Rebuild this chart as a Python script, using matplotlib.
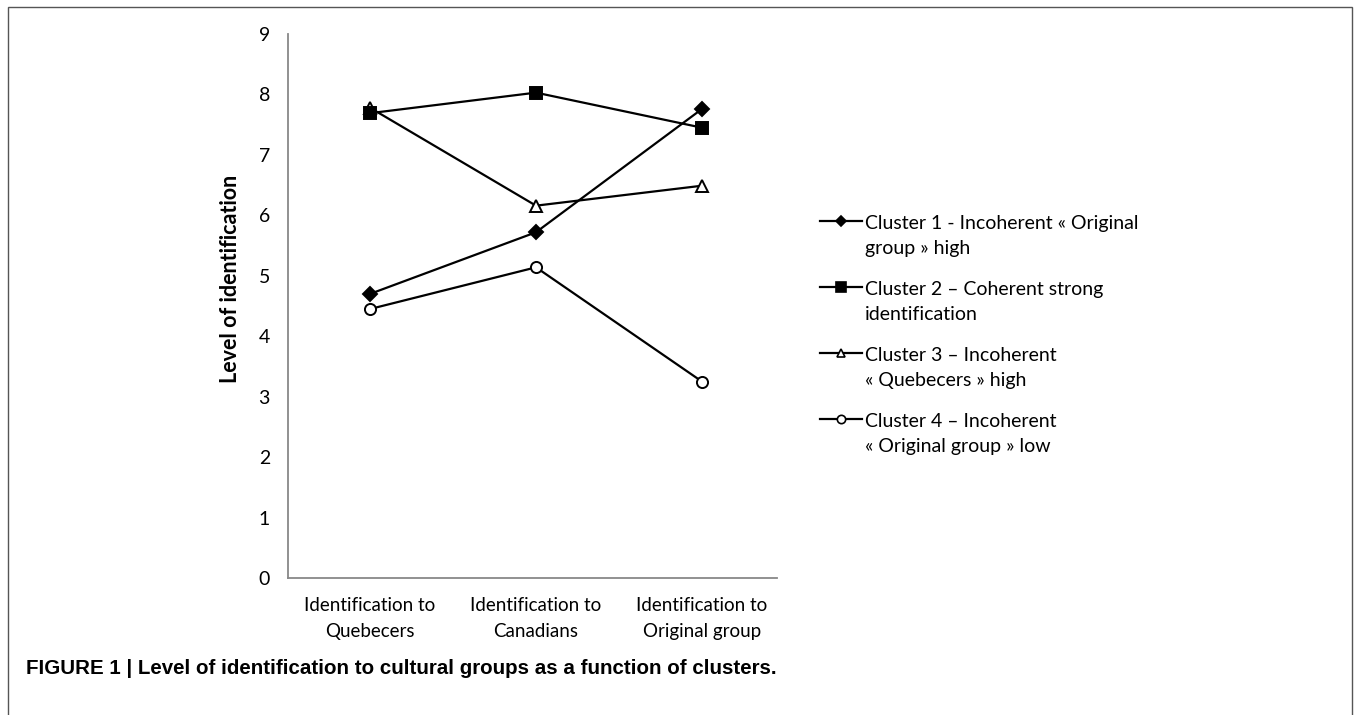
import matplotlib.pyplot as plt
from matplotlib.lines import Line2D
from matplotlib.patches import Rectangle

plt.rcParams['font.family'] = ['Lato', 'DejaVu Sans']

categories = ['Identification to\nQuebecers', 'Identification to\nCanadians',
              'Identification to\nOriginal group']
cluster1 = [4.70, 5.72, 7.76]
cluster2 = [7.69, 8.03, 7.45]
cluster3 = [7.78, 6.16, 6.49]
cluster4 = [4.45, 5.14, 3.25]
labels = ['Cluster 1 - Incoherent « Original\ngroup » high',
          'Cluster 2 – Coherent strong\nidentification',
          'Cluster 3 – Incoherent\n« Quebecers » high',
          'Cluster 4 – Incoherent\n« Original group » low']
caption = 'FIGURE 1 | Level of identification to cultural groups as a function of clusters.'

W, H = 1354, 715
fig = plt.figure(figsize=(W / 100, H / 100), dpi=100)

# outer frame of the figure panel
fig.add_artist(Rectangle((8 / W, -0.02), (1352 - 8) / W, 1.02 - 7.5 / H,
                         transform=fig.transFigure, fill=False,
                         edgecolor='#555555', lw=1.0))

ax = fig.add_axes([288 / W, 1 - 578 / H, (777 - 288) / W, (578 - 34) / H])
x = range(len(categories))

styles = [
    dict(marker='D', markersize=7, markerfacecolor='black'),
    dict(marker='s', markersize=9, markerfacecolor='black'),
    dict(marker='^', markersize=8.5, markerfacecolor='white'),
    dict(marker='o', markersize=8, markerfacecolor='white'),
]
series = [cluster1, cluster2, cluster3, cluster4]
zorders = [4, 5, 3, 3]
for vals, st, z in zip(series, styles, zorders):
    ax.plot(x, vals, color='black', lw=1.6, markeredgecolor='black',
            markeredgewidth=1.4, clip_on=False, zorder=z, **st)

ax.set_xlim(-0.494, 2.452)
ax.set_ylim(0, 9)
ax.set_yticks(range(10))
ax.set_xticks(list(x))
ax.set_xticklabels(categories, fontsize=13.5, linespacing=1.58)
ax.tick_params(axis='y', length=0, pad=13, labelsize=14)
ax.tick_params(axis='x', length=0, pad=14)
for s in ['top', 'right']:
    ax.spines[s].set_visible(False)
for s in ['left', 'bottom']:
    ax.spines[s].set_color('#888888')
    ax.spines[s].set_linewidth(1.3)
ax.set_ylabel('Level of identification', fontsize=15.5, fontweight='bold')
ax.yaxis.set_label_coords(-0.096, 0.55)

# legend drawn by hand so the handle sits on the first text line
for i, (lab, st) in enumerate(zip(labels, styles)):
    ypx = 221 + i * 66
    yy = 1 - ypx / H
    fig.add_artist(Line2D([820 / W, 862 / W], [yy, yy],
                          transform=fig.transFigure, color='black', lw=1.6))
    fig.add_artist(Line2D([841 / W], [yy], transform=fig.transFigure,
                          color='black', markeredgecolor='black',
                          markeredgewidth=1.2,
                          marker=st['marker'],
                          markersize=st['markersize'] * 0.75,
                          markerfacecolor=st['markerfacecolor']))
    for j, line in enumerate(lab.split('\n')):
        fig.text(865 / W, 1 - (ypx + 1 + j * 25) / H, line, fontsize=14,
                 va='center_baseline', ha='left')

fig.text(26 / W, 1 - 668 / H, caption,
         family=['Liberation Sans', 'DejaVu Sans'],
         fontsize=14.8, fontweight='bold', va='center', ha='left')

fig.savefig('out.png', dpi=100)
